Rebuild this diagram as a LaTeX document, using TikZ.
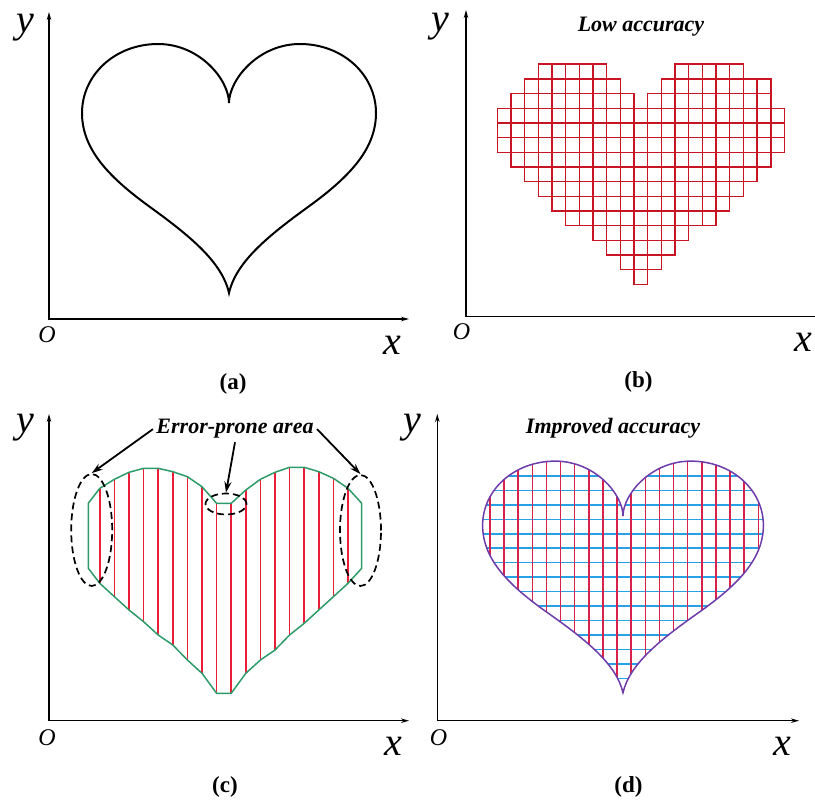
\documentclass[tikz,border=0pt]{standalone}
\usepackage{fontspec}
\setmainfont{Liberation Serif}
\usepackage{xcolor}
\definecolor{cellred}{RGB}{200,20,35}
\definecolor{hatchred}{RGB}{235,30,55}
\definecolor{rimgreen}{RGB}{45,155,105}
\definecolor{meshblue}{RGB}{40,160,230}
\definecolor{meshred}{RGB}{215,35,75}
\definecolor{rimpurple}{RGB}{110,60,170}
\usepackage{tikz}
\usetikzlibrary{arrows.meta}
\usetikzlibrary{shapes.geometric}

\newcommand{\heartcurve}{(0,0) .. controls (0,-23) and (-29,-59) .. (-71,-59)
  .. controls (-114,-59) and (-147,-28) .. (-147,10)
  .. controls (-147,47) and (-119,75) .. (-79,104)
  .. controls (-39,133) and (-7,159) .. (0,190)
  .. controls (7,159) and (39,133) .. (79,104)
  .. controls (119,75) and (147,47) .. (147,10)
  .. controls (147,-28) and (114,-59) .. (71,-59)
  .. controls (29,-59) and (0,-23) .. (0,0) -- cycle}

\begin{document}
\begin{tikzpicture}[x=1pt, y=-1pt,
    axes/.style={line width=1.3pt, {Stealth[length=8pt,width=4.5pt]}-{Stealth[length=8pt,width=4.5pt]}},
    axis letter/.style={font=\fontsize{40}{40}\selectfont\itshape, inner sep=0pt, anchor=base},
    origin letter/.style={font=\fontsize{24}{24}\selectfont\itshape, inner sep=0pt, anchor=base},
    caption/.style={font=\fontsize{23}{23}\selectfont\bfseries, inner sep=0pt, anchor=base},
    remark/.style={font=\fontsize{22}{22}\selectfont\bfseries\itshape, anchor=base},
    cell/.style={draw=cellred, line width=1.6pt},
    ring/.style={draw, ellipse, dash pattern=on 7pt off 4pt, line width=1.7pt, inner sep=0pt},
    pointer/.style={line width=1.8pt, -{Stealth[length=11pt,width=7pt]}}]
      \useasboundingbox (0,0) rectangle (815,802);

      \draw[axes] (49,12) -- (49,319) -- (409,319);
      \node[axis letter] (ya) at (25,33) {y};
      \node[axis letter] (xa) at (392,355) {x};
      \node[origin letter] (oa) at (47,343) {O};
      \node[caption] (capa) at (233,390) {(a)};
      \draw[line width=2pt, shift={(229,103)}] \heartcurve;

      \draw[axes] (466,10) -- (466,316.7) -- (830,316.7);
      \node[axis letter] (yb) at (440,32) {y};
      \node[axis letter] (xb) at (803,352) {x};
      \node[origin letter] (ob) at (461.5,340) {O};
      \node[caption] (capb) at (638.5,388) {(b)};
      \node[remark] (lowacc) at (641,32) {Low accuracy};
      \foreach \r/\a/\b in {0/3/7,0/13/17,1/2/8,1/12/19,2/1/9,2/11/19,3/0/20,4/0/20,5/0/20,6/1/19,
                            7/2/18,8/3/17,9/4/16,10/5/15,11/7/13,12/8/12,13/9/11,14/10/10}
        \foreach \c in {\a,...,\b}
          \draw[cell] ({497.3+13.67*\c},{64.3+14.67*\r}) rectangle ++(13.67,14.67);

      \def\rimc{(88.3,503.3) -- (99.8,488.3) -- (114.4,479.3) -- (129,472.3) -- (143.6,468.3) -- (158.2,468.3)
        -- (172.8,471.7) -- (187.4,476.7) -- (202,486.7) -- (216.6,503.3) -- (231.2,503.3) -- (245.8,490)
        -- (260.4,479.3) -- (275,472.3) -- (289.6,467.3) -- (304.2,467.3) -- (318.8,471.7) -- (333.4,478.3)
        -- (348,488.3) -- (361.7,503.3) -- (361.7,568.3) -- (348,583.3) -- (333.4,596.7) -- (318.8,610)
        -- (304.2,623.3) -- (289.6,635) -- (275,650) -- (260.4,660) -- (245.8,673.3) -- (231.2,693.3)
        -- (216.6,693.3) -- (202,673.3) -- (187.4,660) -- (172.8,645) -- (158.2,635) -- (143.6,621.7)
        -- (129,610) -- (114.4,596.7) -- (99.8,583.3) -- (88.3,568.3) -- cycle}
      \draw[axes] (49,414) -- (49,720.7) -- (409,720.7);
      \node[axis letter] (yc) at (25,433) {y};
      \node[axis letter] (xc) at (393,755) {x};
      \node[origin letter] (oc) at (47,745) {O};
      \node[caption] (capc) at (225,792) {(c)};
      \begin{scope}
        \clip \rimc;
        \foreach \i in {0,...,17}
          \draw[hatchred, line width=1.6pt] ({99.8+14.6*\i},460) -- ++(0,240);
      \end{scope}
      \draw[rimgreen, line width=1.5pt] \rimc;
      \node[ring, minimum width=41pt, minimum height=112pt] (errl) at (91.7,530) {};
      \node[ring, minimum width=41pt, minimum height=111pt] (errr) at (360.5,530.5) {};
      \node[ring, minimum width=41pt, minimum height=21pt] (errm) at (226,504) {};
      \node[remark] (errlabel) at (235,434) {Error-prone area};
      \draw[pointer] (errlabel.west) -- (errl.north);
      \draw[pointer] (errlabel.south) -- (errm.north);
      \draw[pointer] (errlabel.east) -- (errr.north);

      \draw[axes] (437.3,414) -- (437.3,720.7) -- (799,720.7);
      \node[axis letter] (yd) at (412,433) {y};
      \node[axis letter] (xd) at (782,755) {x};
      \node[origin letter] (od) at (438.5,745) {O};
      \node[caption] (capd) at (628.5,792) {(d)};
      \node[remark] (impacc) at (613,434) {Improved accuracy};
      \begin{scope}
        \clip[shift={(623,516)}, xscale=0.955, yscale=0.93] \heartcurve;
        \foreach \j in {0,...,14}
          \draw[meshblue, line width=1.5pt] (470,{476+14.45*\j}) -- ++(310,0);
        \foreach \i in {0,...,19}
          \draw[meshred, line width=1.5pt] ({490+14.12*\i},450) -- ++(0,260);
      \end{scope}
      \draw[rimpurple, line width=1.5pt, shift={(623,516)}, xscale=0.955, yscale=0.93] \heartcurve;
    \end{tikzpicture}
\end{document}
